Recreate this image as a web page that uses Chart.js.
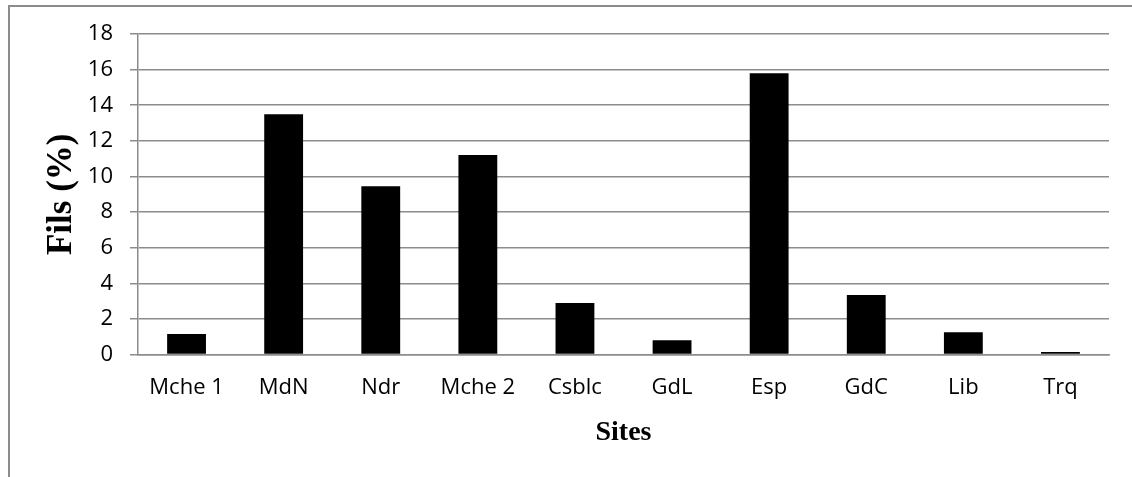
<!DOCTYPE html>
<html>
<head>
<meta charset="utf-8">
<script src="https://cdn.jsdelivr.net/npm/chart.js@4.4.1/dist/chart.umd.min.js"></script>
<style>
    html, body { margin:0; padding:0; background:#fff; }
    #wrap { position:relative; width:1132px; height:477px; }
    #frame {
        position:absolute; left:8px; top:5px; right:0; bottom:0;
        border-top:2px solid #8c8c8c; border-left:2px solid #8c8c8c;
    }
    #chart { position:absolute; left:0; top:0; }
</style>
</head>
<body>
<div id="wrap">
    <div id="frame"></div>
    <canvas id="chart" width="1132" height="477"></canvas>
</div>
<script>
// sites and % of fils
var sites = ['Mche 1', 'MdN', 'Ndr', 'Mche 2', 'Csblc', 'GdL', 'Esp', 'GdC', 'Lib', 'Trq'];
var filsPct = [1.15, 13.5, 9.45, 11.2, 2.9, 0.8, 15.8, 3.35, 1.25, 0.15];
var yTicks = [0, 2, 4, 6, 8, 10, 12, 14, 16, 18];

var gridColor = '#8c8c8c';

var chart = new Chart(document.getElementById('chart'), {
    type:'bar',
    data:{
        labels:sites,
        datasets:[{
            label:'Fils (%)',
            data:filsPct,
            backgroundColor:'#000000',
            borderWidth:0,
            categoryPercentage:1,
            barPercentage:0.4
        }]
    },
    options:{
        responsive:false,
        animation:false,
        layout:{ padding:{ left:0, top:34, right:23, bottom:0 } },
        plugins:{ legend:{ display:false }, tooltip:{ enabled:false } },
        scales:{
            x:{
                grid:{ display:false, drawTicks:false },
                border:{ display:true, color:gridColor, width:1.5 },
                ticks:{
                    color:'#000',
                    padding:20,
                    maxRotation:0,
                    font:{ family:'"Open Sans"', size:22 }
                },
                title:{
                    display:true,
                    text:'Sites',
                    color:'#000',
                    padding:{ top:0, bottom:27 },
                    font:{ family:'"Liberation Serif", "DejaVu Serif", serif', size:28, weight:'bold' }
                },
                afterFit:function(scale) { scale.height = 122.4; }
            },
            y:{
                min:0,
                max:18,
                afterBuildTicks:function(scale) {
                    scale.ticks = yTicks.map(function(v) { return { value:v }; });
                },
                grid:{ color:gridColor, lineWidth:1.5, tickLength:8, drawTicks:true },
                border:{ display:true, color:gridColor, width:1.5 },
                ticks:{
                    color:'#000',
                    padding:17,
                    font:{ family:'"Open Sans"', size:22 }
                },
                title:{
                    display:true,
                    text:'Fils (%)',
                    color:'#000',
                    padding:{ top:41, bottom:0 },
                    font:{ family:'"Liberation Serif", "DejaVu Serif", serif', size:35, weight:'bold' }
                },
                afterFit:function(scale) { scale.width = 138; }
            }
        }
    }
});
</script>
</body>
</html>
